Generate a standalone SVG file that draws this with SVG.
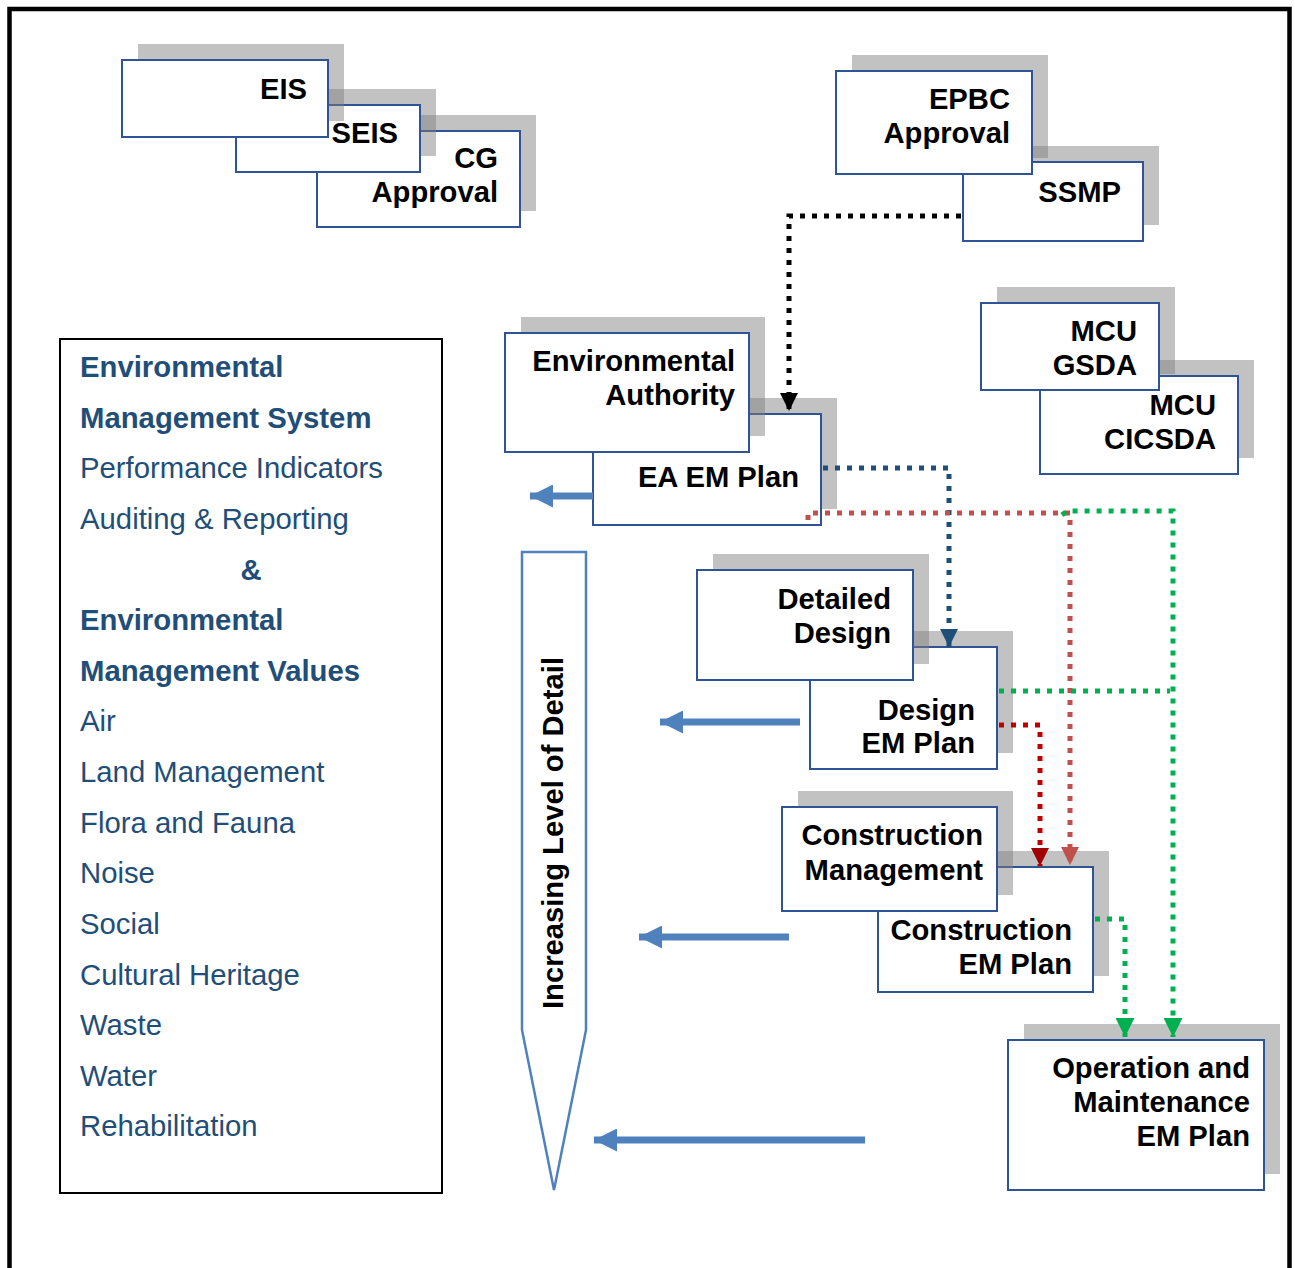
<svg xmlns="http://www.w3.org/2000/svg" width="1295" height="1268" viewBox="0 0 1295 1268">
<style>
.sh{fill:#7f7f7f;fill-opacity:0.48}
.bx{fill:#fff;stroke:#2F5496;stroke-width:2}
.nt{font-family:"Liberation Sans",Arial,sans-serif;font-weight:bold;font-size:29.2px;fill:#000;text-anchor:end}
.lt{font-family:"Liberation Sans",Arial,sans-serif;font-size:29.3px;fill:#1F4E79}
.lb{font-weight:bold}
.dot{fill:none;stroke-width:5;stroke-dasharray:5 7}
.big{fill:none;stroke:#4F81BD;stroke-width:7}
</style>
<defs>
<marker id="mk" viewBox="0 0 10 10" refX="10" refY="5" markerWidth="18" markerHeight="18" markerUnits="userSpaceOnUse" orient="auto"><path d="M0,0L10,5L0,10z" fill="#000"/></marker>
<marker id="mb" viewBox="0 0 10 10" refX="10" refY="5" markerWidth="18" markerHeight="18" markerUnits="userSpaceOnUse" orient="auto"><path d="M0,0L10,5L0,10z" fill="#1F4E79"/></marker>
<marker id="mr" viewBox="0 0 10 10" refX="10" refY="5" markerWidth="18" markerHeight="18" markerUnits="userSpaceOnUse" orient="auto"><path d="M0,0L10,5L0,10z" fill="#C0504D"/></marker>
<marker id="md" viewBox="0 0 10 10" refX="10" refY="5" markerWidth="18" markerHeight="18" markerUnits="userSpaceOnUse" orient="auto"><path d="M0,0L10,5L0,10z" fill="#A00000"/></marker>
<marker id="mg" viewBox="0 0 10 10" refX="10" refY="5" markerWidth="19" markerHeight="19" markerUnits="userSpaceOnUse" orient="auto"><path d="M0,0L10,5L0,10z" fill="#00B050"/></marker>
<marker id="ml" viewBox="0 0 10 10" refX="10" refY="5" markerWidth="23" markerHeight="23" markerUnits="userSpaceOnUse" orient="auto"><path d="M0,0L10,5L0,10z" fill="#4F81BD"/></marker>
</defs>
<rect width="1295" height="1268" fill="#fff"/>
<rect x="9.5" y="9" width="1280" height="1300" fill="none" stroke="#000" stroke-width="4.5"/>

<!-- EIS cluster -->
<g id="cg-approval"><rect class="sh" x="333" y="115" width="203" height="96"/><rect class="bx" x="317" y="131" width="203" height="96"/><text class="nt" x="498" y="168">CG</text><text class="nt" x="498" y="202">Approval</text></g>
<g id="seis"><rect class="sh" x="252" y="89" width="184" height="67"/><rect class="bx" x="236" y="105" width="184" height="67"/><text class="nt" x="398" y="143">SEIS</text></g>
<g id="eis"><rect class="sh" x="138" y="44" width="206" height="77"/><rect class="bx" x="122" y="60" width="206" height="77"/><text class="nt" x="307" y="99">EIS</text></g>

<!-- EPBC cluster -->
<g id="ssmp"><rect class="sh" x="979" y="146" width="180" height="79"/><rect class="bx" x="963" y="162" width="180" height="79"/><text class="nt" x="1121" y="202">SSMP</text></g>
<g id="epbc-approval"><rect class="sh" x="852" y="55" width="196" height="103"/><rect class="bx" x="836" y="71" width="196" height="103"/><text class="nt" x="1010" y="109">EPBC</text><text class="nt" x="1010" y="143">Approval</text></g>

<!-- MCU cluster -->
<g id="mcu-cicsda"><rect class="sh" x="1056" y="360" width="198" height="98"/><rect class="bx" x="1040" y="376" width="198" height="98"/><text class="nt" x="1216" y="415">MCU</text><text class="nt" x="1216" y="449">CICSDA</text></g>
<g id="mcu-gsda"><rect class="sh" x="997" y="287" width="178" height="87"/><rect class="bx" x="981" y="303" width="178" height="87"/><text class="nt" x="1137" y="341">MCU</text><text class="nt" x="1137" y="375">GSDA</text></g>

<!-- EA cluster -->
<g id="ea-em-plan"><rect class="sh" x="609" y="398" width="228" height="111"/><rect class="bx" x="593" y="414" width="228" height="111"/><text class="nt" x="799" y="487">EA EM Plan</text></g>
<g id="environmental-authority"><rect class="sh" x="521" y="317" width="244" height="119"/><rect class="bx" x="505" y="333" width="244" height="119"/><text class="nt" x="735" y="371">Environmental</text><text class="nt" x="735" y="405">Authority</text></g>

<!-- Design cluster -->
<g id="design-em-plan"><rect class="sh" x="826" y="631" width="187" height="122"/><rect class="bx" x="810" y="647" width="187" height="122"/><text class="nt" x="975" y="720">Design</text><text class="nt" x="975" y="753">EM Plan</text></g>
<g id="detailed-design"><rect class="sh" x="713" y="554" width="216" height="110"/><rect class="bx" x="697" y="570" width="216" height="110"/><text class="nt" x="891" y="609">Detailed</text><text class="nt" x="891" y="643">Design</text></g>

<!-- Construction cluster -->
<g id="construction-em-plan"><rect class="sh" x="894" y="851" width="215" height="125"/><rect class="bx" x="878" y="867" width="215" height="125"/><text class="nt" x="1072" y="940">Construction</text><text class="nt" x="1072" y="974">EM Plan</text></g>
<g id="construction-management"><rect class="sh" x="798" y="791" width="215" height="104"/><rect class="bx" x="782" y="807" width="215" height="104"/><text class="nt" x="983" y="845">Construction</text><text class="nt" x="983" y="880">Management</text></g>

<!-- O&M -->
<g id="om-em-plan"><rect class="sh" x="1024" y="1024" width="256" height="150"/><rect class="bx" x="1008" y="1040" width="256" height="150"/><text class="nt" x="1250" y="1078">Operation and</text><text class="nt" x="1250" y="1112">Maintenance</text><text class="nt" x="1250" y="1146">EM Plan</text></g>

<!-- Left text panel -->
<g id="ems-panel">
<rect x="60" y="339" width="382" height="854" fill="#fff" stroke="#000" stroke-width="2"/>
<text class="lt lb" x="80" y="377">Environmental</text>
<text class="lt lb" x="80" y="428">Management System</text>
<text class="lt" x="80" y="478">Performance Indicators</text>
<text class="lt" x="80" y="529">Auditing &amp; Reporting</text>
<text class="lt lb" x="251" y="580" text-anchor="middle">&amp;</text>
<text class="lt lb" x="80" y="630">Environmental</text>
<text class="lt lb" x="80" y="681">Management Values</text>
<text class="lt" x="80" y="731">Air</text>
<text class="lt" x="80" y="782">Land Management</text>
<text class="lt" x="80" y="833">Flora and Fauna</text>
<text class="lt" x="80" y="883">Noise</text>
<text class="lt" x="80" y="934">Social</text>
<text class="lt" x="80" y="985">Cultural Heritage</text>
<text class="lt" x="80" y="1035">Waste</text>
<text class="lt" x="80" y="1086">Water</text>
<text class="lt" x="80" y="1136">Rehabilitation</text>
</g>

<!-- Level of detail arrow -->
<g id="level-of-detail">
<polygon points="522,552 586,552 586,1030 554,1190 522,1030" fill="#fff" stroke="#4F81BD" stroke-width="2.5"/>
<text class="nt" transform="translate(563,833) rotate(-90)" style="text-anchor:middle">Increasing Level of Detail</text>
</g>

<!-- Connectors -->
<g id="connectors">
<path class="dot" stroke="#000" stroke-width="6" stroke-dasharray="6 6" d="M961,216H789V411" marker-end="url(#mk)"/>
<path class="dot" stroke="#1F4E79" d="M823,468H949V647" marker-end="url(#mb)"/>
<path class="dot" stroke="#C0504D" d="M808,520V513H1070V865" marker-end="url(#mr)"/>
<path class="dot" stroke="#C00000" d="M999,725H1040V866" marker-end="url(#md)"/>
<path class="dot" stroke="#00B050" d="M1062,515L1067,511H1173V1037" marker-end="url(#mg)"/>
<path class="dot" stroke="#00B050" d="M999,691H1170"/>
<path class="dot" stroke="#00B050" d="M1095,919H1125V1037" marker-end="url(#mg)"/>
<path class="big" d="M593,496H530" marker-end="url(#ml)"/>
<path class="big" d="M800,722H660" marker-end="url(#ml)"/>
<path class="big" d="M789,937H639" marker-end="url(#ml)"/>
<path class="big" d="M865,1140H594" marker-end="url(#ml)"/>
</g>
</svg>
